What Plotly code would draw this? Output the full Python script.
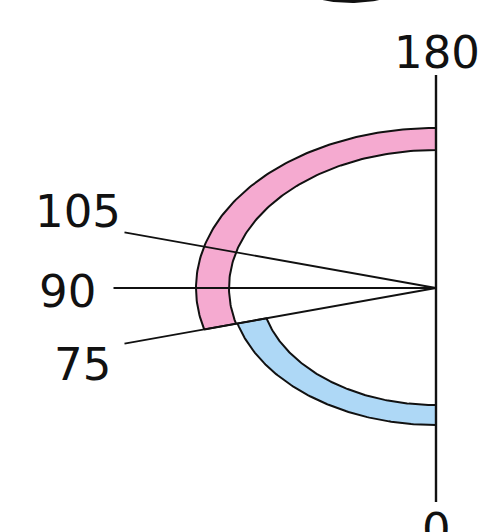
import numpy as np
import plotly.graph_objects as go

# ---- data ----
band_names = ["upper", "lower"]
band_start_deg = [75, 0]
band_end_deg = [180, 75]
band_inner_r = [138, 117]
band_outer_r = [160, 137]
band_colors = ["#F5AAD0", "#AED8F6"]

ray_angles = [105, 90, 75]
ray_length = 215
axis_length = 214

tick_labels = ["180", "105", "90", "75", "0"]
tick_label_u = [0.5, -239, -246, -236, 0.5]
tick_label_v = [236, 77, -3, -76, -241]

XS = 1.5  # horizontal stretch of the drawing


def pt(r, deg):
    t = np.radians(deg)
    return -r * np.sin(t), -r * np.cos(t)


fig = go.Figure()

for s, e, ri, ro, c in zip(band_start_deg, band_end_deg, band_inner_r, band_outer_r, band_colors):
    th = np.linspace(s, e, 120)
    xo, yo = pt(ro, th)
    xi, yi = pt(ri, th[::-1])
    x = np.concatenate([xo, xi, xo[:1]])
    y = np.concatenate([yo, yi, yo[:1]])
    fig.add_trace(go.Scatter(x=x, y=y, mode="lines", fill="toself", fillcolor=c,
                             line=dict(color="#111111", width=2), hoverinfo="skip"))

for a in ray_angles:
    x1, y1 = pt(ray_length, a)
    fig.add_trace(go.Scatter(x=[0, x1], y=[0, y1], mode="lines",
                             line=dict(color="#111111", width=1.8), hoverinfo="skip"))

# vertical axis line 0..180
xt, yt = pt(axis_length - 1, 180)
xb, yb = pt(axis_length, 0)
fig.add_trace(go.Scatter(x=[xt, xb], y=[yt, yb], mode="lines",
                         line=dict(color="#111111", width=2.4), hoverinfo="skip"))

# partial dark arc at the very top edge
th = np.linspace(150, 210, 60)
ax_u = -57 + 55 * np.sin(np.radians(th))
ax_v = 332.5 + 45 * np.cos(np.radians(th))
fig.add_trace(go.Scatter(x=ax_u, y=ax_v, mode="lines",
                         line=dict(color="#111111", width=5), hoverinfo="skip"))

for t, u, v in zip(tick_labels, tick_label_u, tick_label_v):
    fig.add_annotation(x=u, y=v, text=t, showarrow=False, xanchor="center", yanchor="middle",
                       font=dict(family="DejaVu Sans", size=45, color="#111111"))

W, H = 488, 532
cx, cy = 436, 288
fig.update_layout(
    width=W, height=H, margin=dict(l=0, r=0, t=0, b=0),
    paper_bgcolor="white", plot_bgcolor="white", showlegend=False,
    xaxis=dict(range=[(0 - cx) / XS, (W - cx) / XS], visible=False, fixedrange=True),
    yaxis=dict(range=[cy - H, cy], visible=False, fixedrange=True),
)
fig.write_html("out.html", config={"displayModeBar": False},
               post_script="document.body.style.margin='0';")
